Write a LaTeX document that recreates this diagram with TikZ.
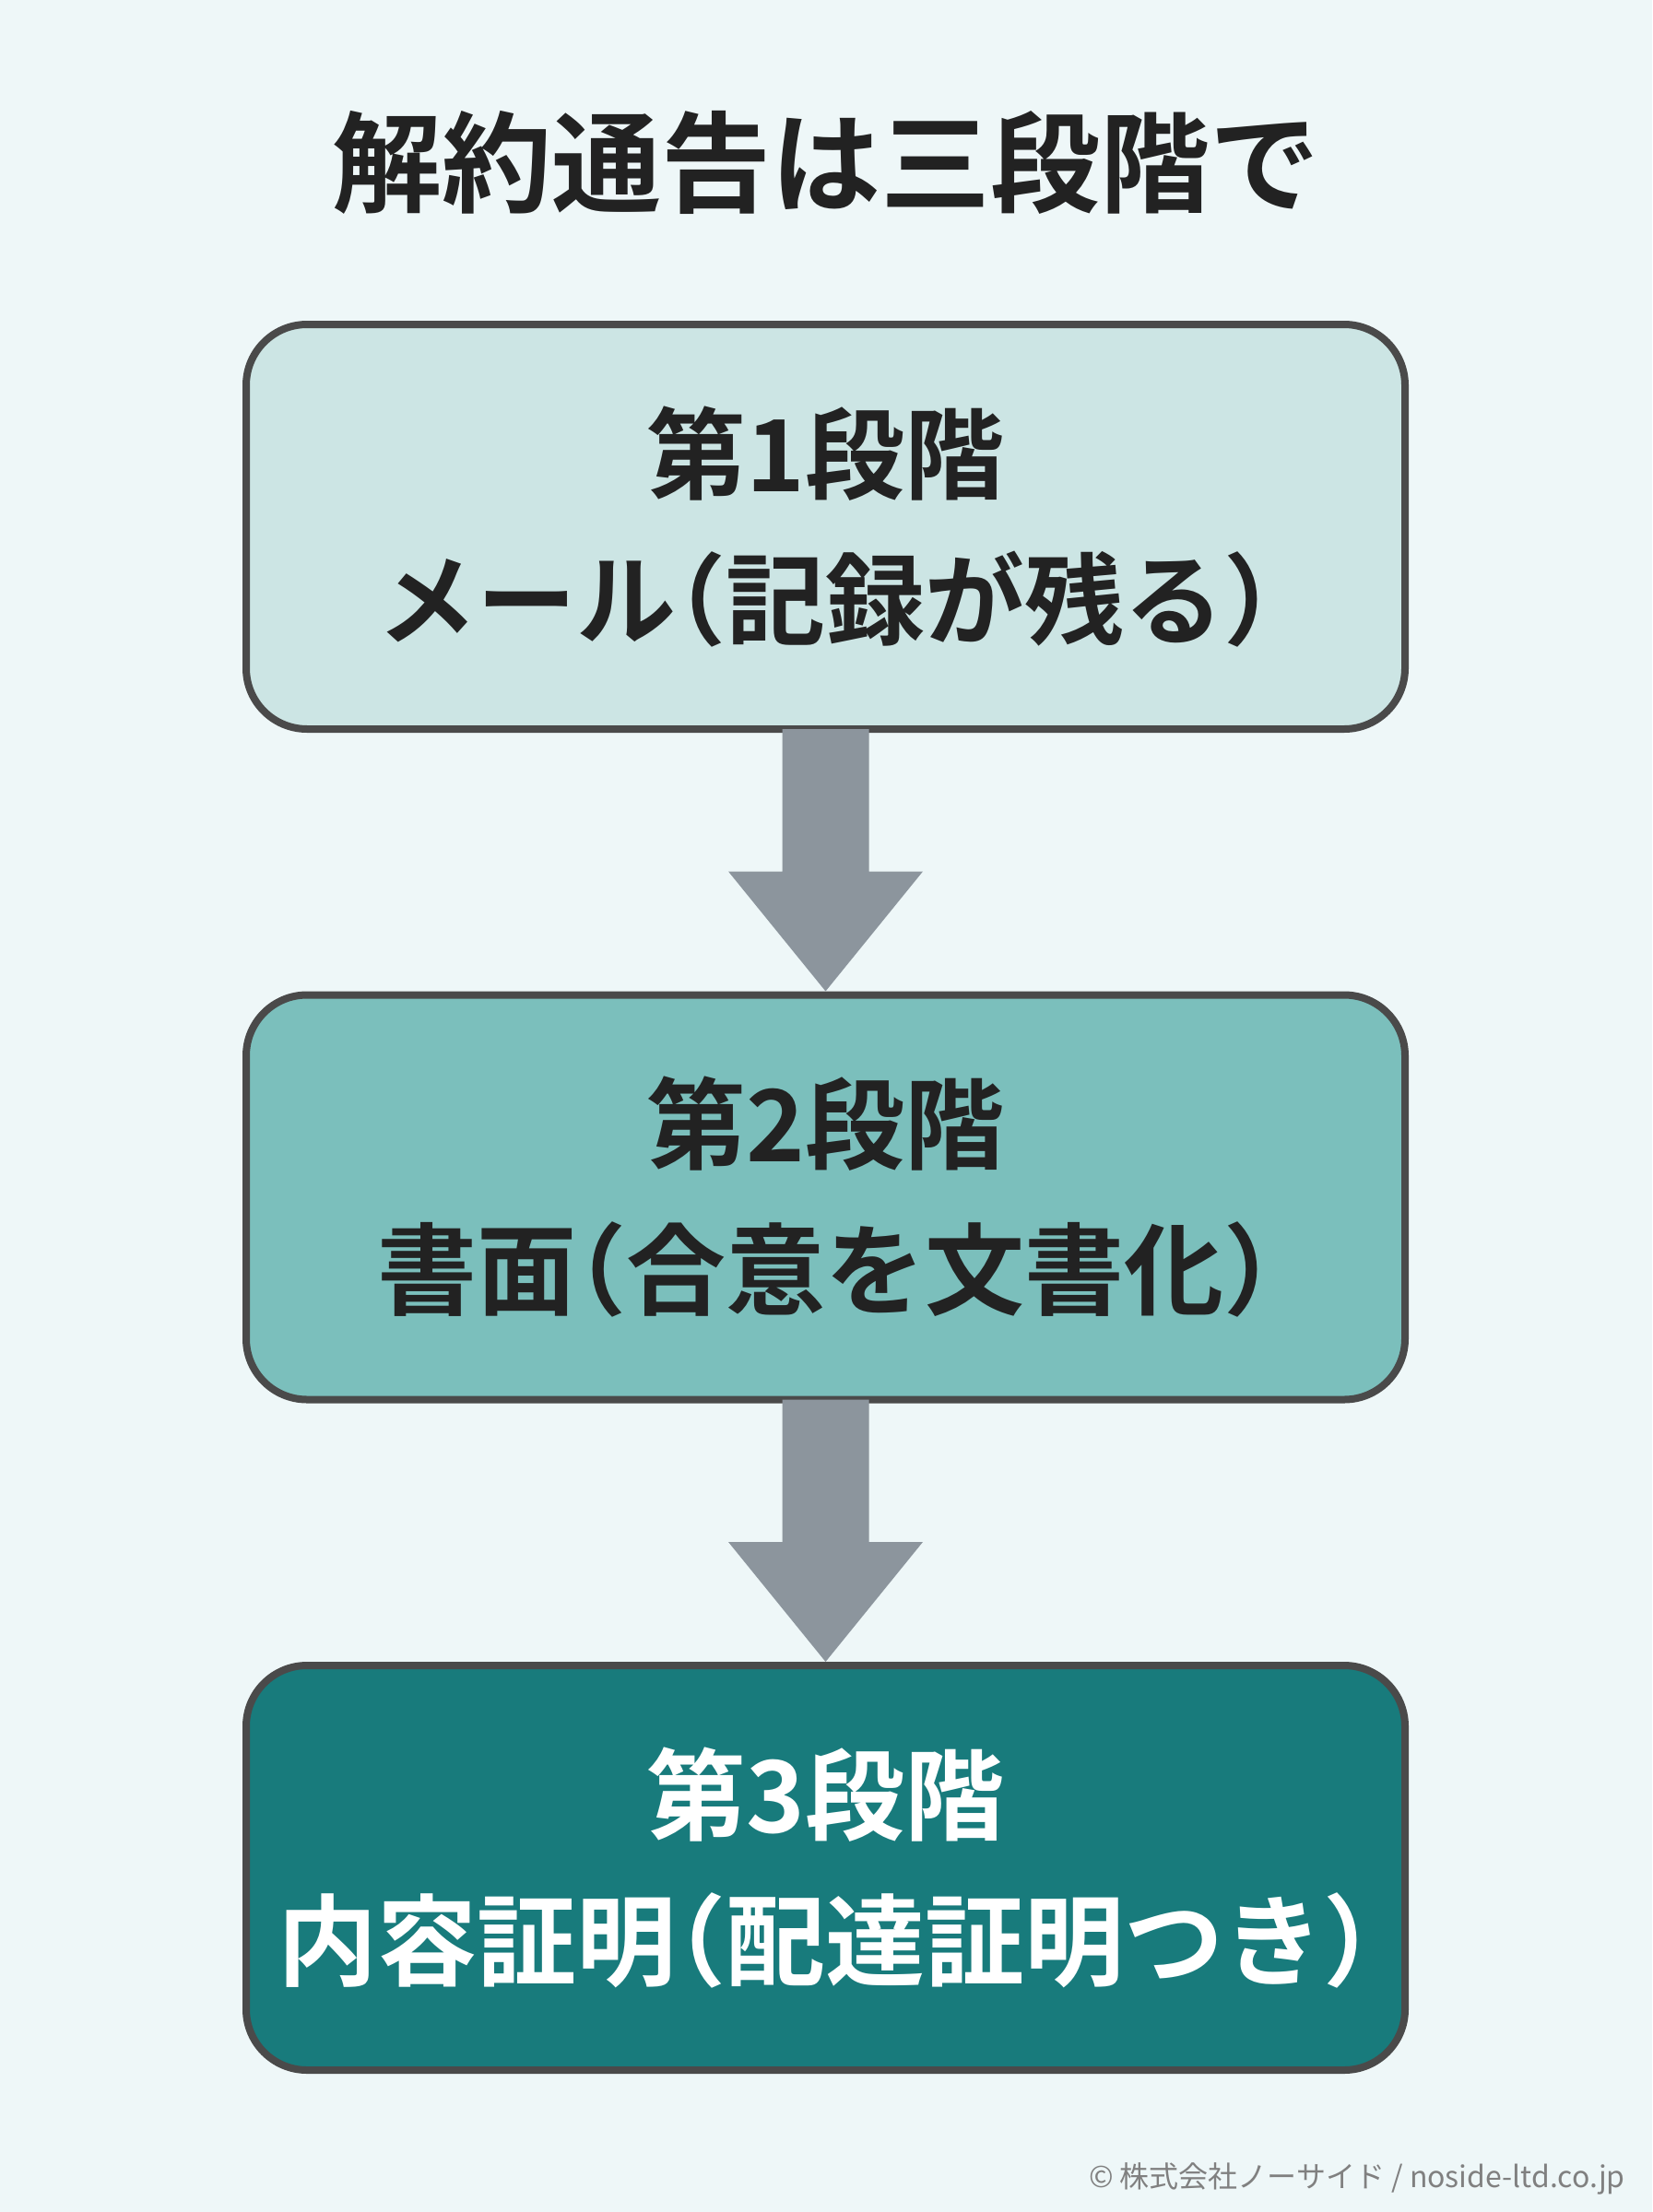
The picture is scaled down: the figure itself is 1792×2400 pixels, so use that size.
\documentclass[tikz,border=0pt]{standalone}
\usepackage{fontspec}
\setmainfont{Noto Sans CJK JP}[BoldFont={Noto Sans CJK JP Bold}]
\usetikzlibrary{calc}
\definecolor{bgc}{HTML}{EEF7F8}
\definecolor{bordc}{HTML}{4A4A4A}
\definecolor{c1}{HTML}{CCE5E4}
\definecolor{c2}{HTML}{7BBFBC}
\definecolor{c3}{HTML}{187B7C}
\definecolor{arrc}{HTML}{8C959D}
\definecolor{txt}{HTML}{222222}
\definecolor{cpy}{HTML}{808080}
\newcommand{\hp}[1]{{\addfontfeature{RawFeature=+halt}#1}}
\tikzset{
  x=1pt, y=1pt,
  stagebox/.style={draw=bordc, line width=8pt, rounded corners=66pt,
    minimum width=1257pt, minimum height=439pt, align=center,
    font=\fontsize{108}{158}\selectfont\bfseries, inner sep=0pt},
  bigarrow/.style={fill=arrc},
}
\begin{document}
\begin{tikzpicture}
\fill[bgc] (0,0) rectangle (1792,-2400);
\useasboundingbox (0,0) rectangle (1792,-2400);

\node[font=\fontsize{119}{130}\selectfont\bfseries, text=txt] (title) at (896,-176) {解約通告は三段階で};

\node[stagebox, fill=c1, text=txt] (b1) at (895.5,-571.5) {第1段階\\メール\hp{（}記録が残る\hp{）}};
\node[stagebox, fill=c2, text=txt] (b2) at (895.5,-1299) {第2段階\\書面\hp{（}合意を文書化\hp{）}};
\node[stagebox, fill=c3, text=white] (b3) at (895.5,-2026.5) {第3段階\\内容証明\hp{（}配達証明つき\hp{）}};

\foreach \s/\t in {b1/b2, b2/b3} {
  \fill[bigarrow] ($(\s.south)+(-47,4)$) -- ($(\s.south)+(47,4)$)
    -- ($(\t.north)+(47,130)$) -- ($(\t.north)+(105.5,130)$)
    -- (\t.north) -- ($(\t.north)+(-105.5,130)$)
    -- ($(\t.north)+(-47,130)$) -- cycle;
}

\node[anchor=east, font=\fontsize{32}{40}\selectfont, text=cpy, inner sep=0pt] (copy) at (1763,-2364) {© 株式会社ノーサイド / noside-ltd.co.jp};
\end{tikzpicture}
\end{document}
